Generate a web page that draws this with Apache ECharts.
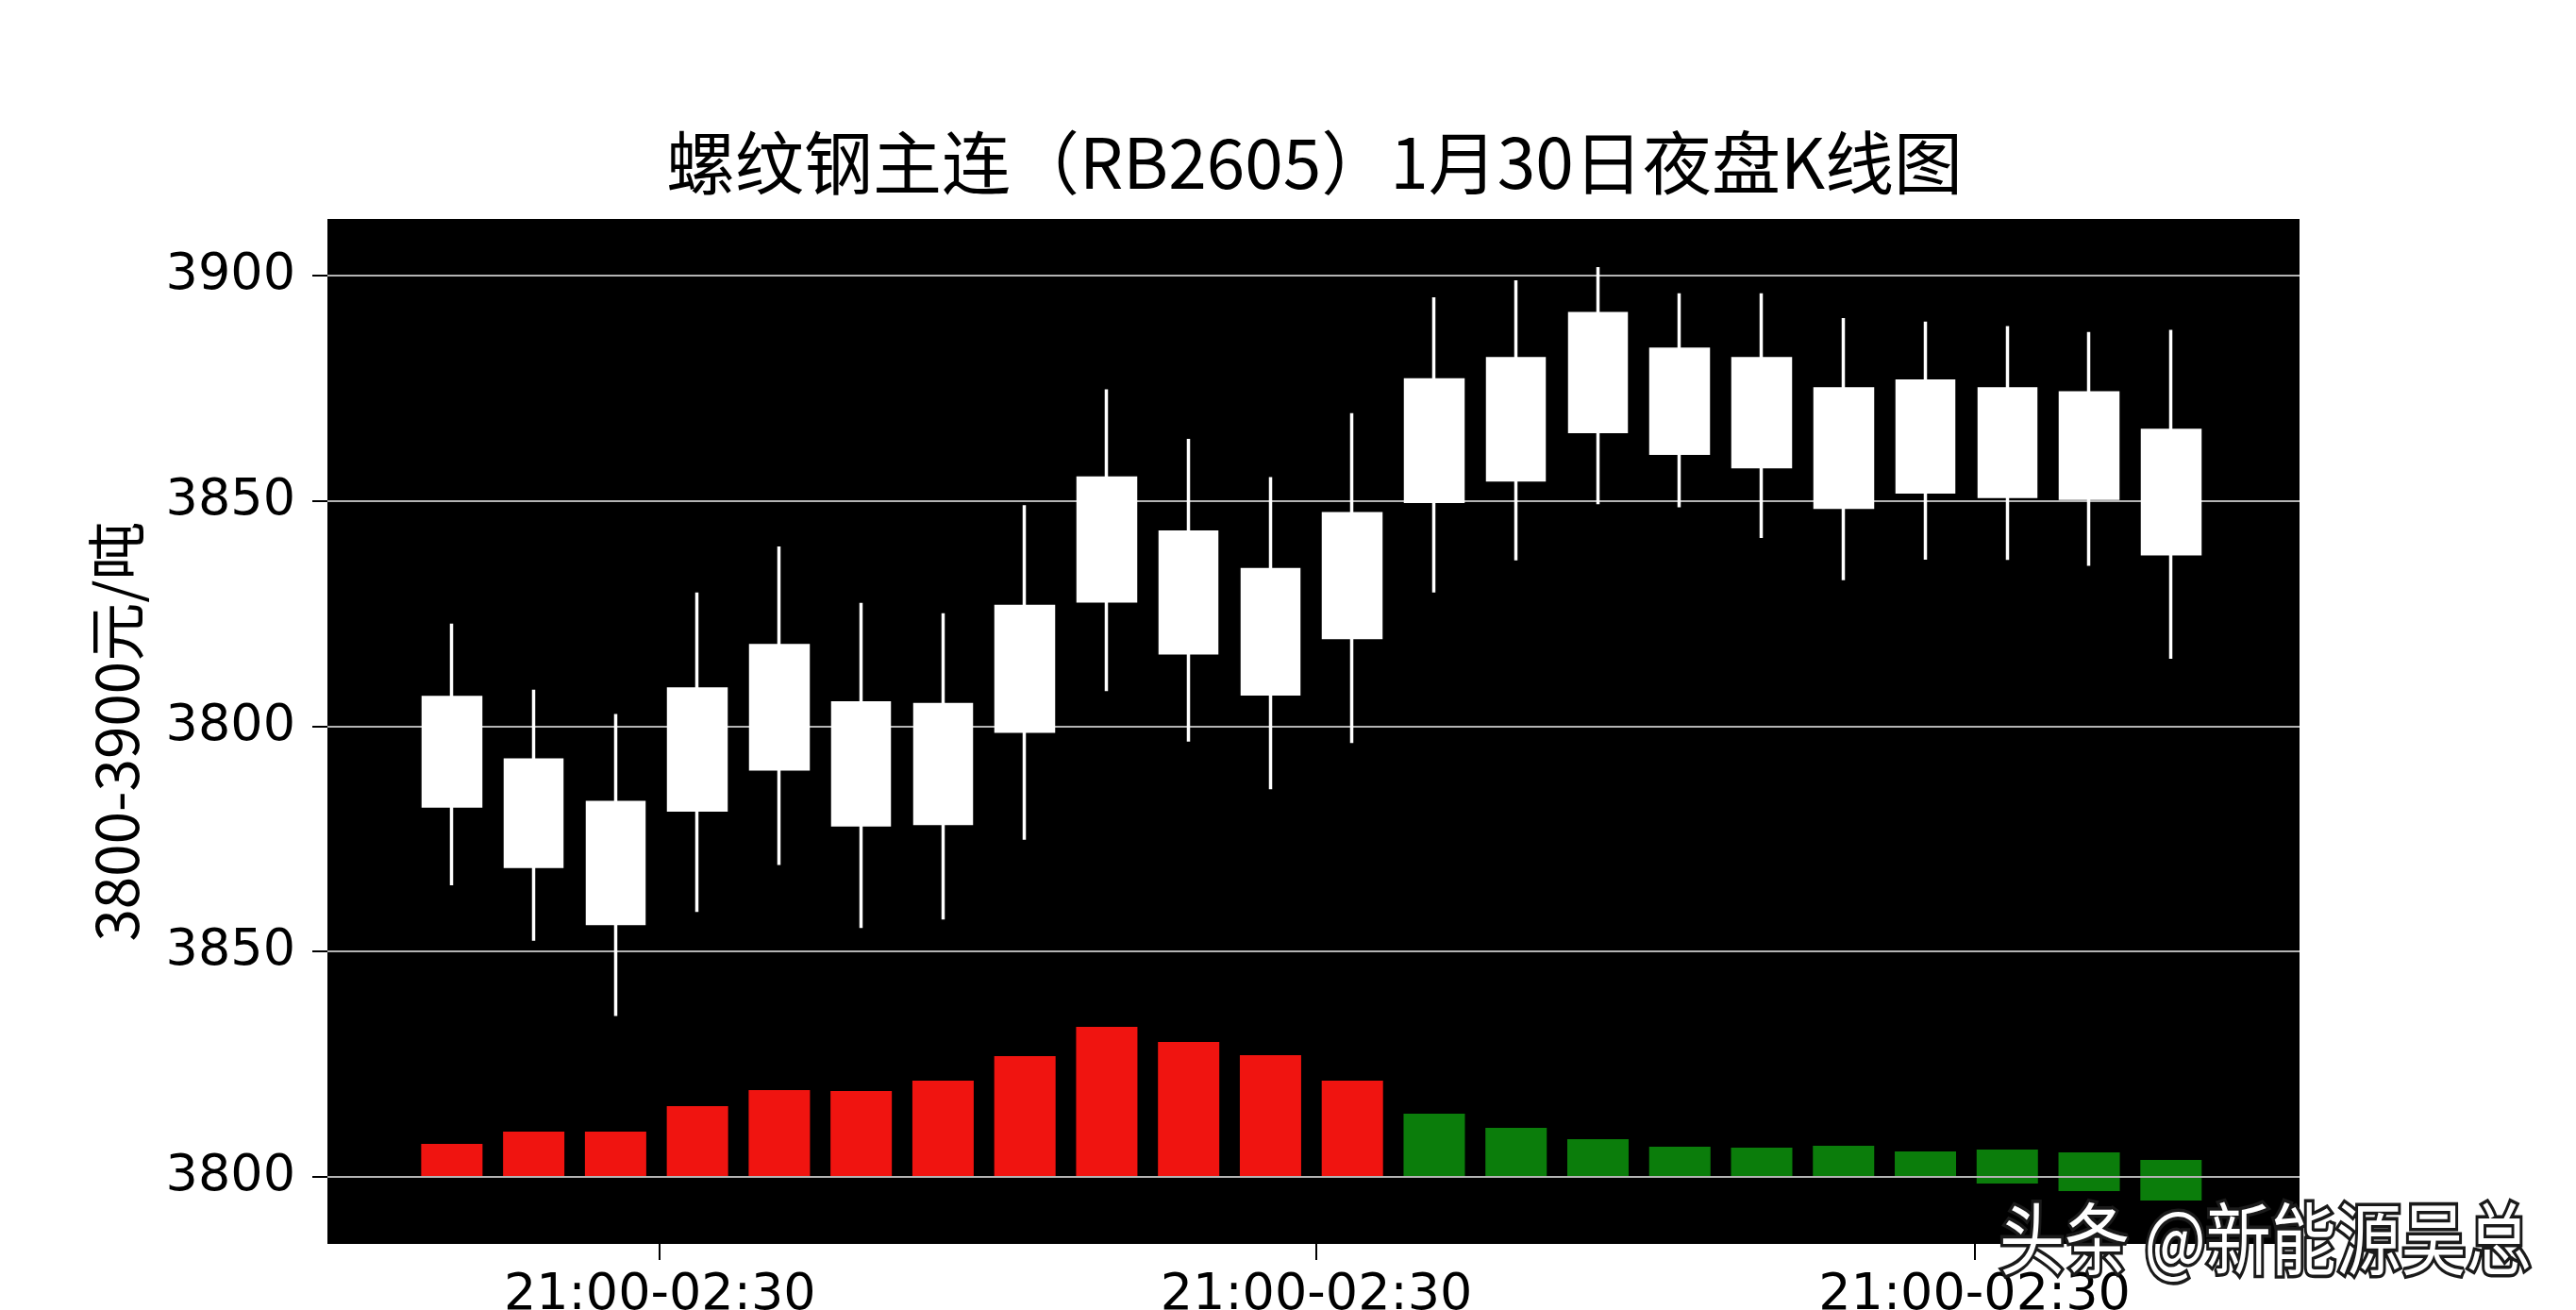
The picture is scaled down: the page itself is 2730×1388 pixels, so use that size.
<!DOCTYPE html>
<html>
<head>
<meta charset="utf-8">
<script src="https://cdn.jsdelivr.net/npm/echarts@6/dist/echarts.min.js"></script>
<style>
  html, body { margin: 0; padding: 0; background: #fff; }
  #chart { width: 2730px; height: 1388px; }
</style>
</head>
<body>
<div id="chart"></div>
<script>
// ---- data ----
const titleText = '螺纹钢主连（RB2605）1月30日夜盘K线图';
const yAxisName = '3800-3900元/吨';
const watermarkText = '头条 @新能源吴总';

// candle index (one per bar)
const candleIndex = [0,1,2,3,4,5,6,7,8,9,10,11,12,13,14,15,16,17,18,19,20,21];
const candleOpen  = [3782.3,3768.9,3756.2,3781.4,3790.5,3778.1,3778.4,3798.9,3827.8,3816.3,3807.2,3819.7,3876.9,3881.6,3891.6,3883.7,3881.6,3874.9,3876.6,3874.9,3874.0,3865.7];
const candleClose = [3806.4,3792.5,3783.1,3808.3,3817.9,3805.2,3804.8,3826.6,3855.1,3843.1,3834.8,3847.2,3849.9,3854.7,3865.4,3860.6,3857.6,3848.6,3852.0,3851.0,3850.6,3838.3];
const candleLow   = [3764.7,3752.4,3735.7,3758.8,3769.2,3755.2,3757.1,3774.8,3807.8,3796.6,3786.0,3796.3,3829.7,3836.8,3849.3,3848.6,3841.8,3832.4,3837.0,3836.9,3835.6,3815.0];
const candleHigh  = [3822.8,3808.1,3802.7,3829.7,3839.9,3827.4,3825.1,3849.1,3874.8,3863.8,3855.3,3869.5,3895.2,3899.0,3901.9,3896.1,3896.1,3890.6,3889.8,3888.8,3887.5,3888.0];

// volume bars: part above the baseline and part below it
const volumeAbove = [36,49,49,76,93,92,103,129,160,144,130,103,68,53,41,33,32,34,28,30,27,19];
const volumeBelow = [0,0,0,0,0,0,0,0,0,0,0,0,0,0,0,0,0,0,0,-6,-14,-24];

// axis ticks
const yTickValues = [3700, 3750, 3800, 3850, 3900];
const yTickLabels = ['3800', '3850', '3800', '3850', '3900'];
const xTickValues = [2.54, 10.56, 18.6];
const xTickLabels = ['21:00-02:30', '21:00-02:30', '21:00-02:30'];

// ---- chart ----
const isUp = i => candleClose[i] >= candleOpen[i];
const volColor = i => (isUp(i) ? '#f01410' : '#0b7d0b');
const candleData = candleIndex.map((x, i) => [x, candleOpen[i], candleClose[i], candleLow[i], candleHigh[i]]);
const aboveData = candleIndex.map((x, i) => ({ value: [x, volumeAbove[i]], itemStyle: { color: volColor(i) } }));
const belowData = candleIndex.map((x, i) => ({ value: [x, volumeBelow[i]], itemStyle: { color: volColor(i) } }));

const chart = echarts.init(document.getElementById('chart'), null, { renderer: 'canvas' });
chart.setOption({
  animation: false,
  backgroundColor: '#ffffff',
  title: {
    text: titleText,
    left: 1388,
    top: 131,
    textAlign: 'center',
    textStyle: { fontSize: 73, fontWeight: 'normal', color: '#000', fontFamily: '"Noto Sans CJK SC"' }
  },
  grid: {
    left: 347, top: 232, right: 293, bottom: 70,
    show: true, backgroundColor: '#000', borderWidth: 0,
    containLabel: false, outerBoundsMode: 'none'
  },
  xAxis: {
    type: 'value',
    min: -1.52, max: 22.57,
    axisLine: { show: false, onZero: false },
    axisTick: { show: true, customValues: xTickValues, length: 17, lineStyle: { color: '#000', width: 2 } },
    axisLabel: {
      customValues: xTickValues,
      formatter: v => { const k = xTickValues.indexOf(v); return k >= 0 ? xTickLabels[k] : ''; },
      fontSize: 54, fontFamily: '"DejaVu Sans"', color: '#000', margin: 28
    },
    splitLine: { show: false }
  },
  yAxis: [{
    type: 'value',
    min: 3685.1, max: 3912.6,
    z: 1.5,
    name: yAxisName,
    nameLocation: 'middle',
    nameRotate: 90,
    nameGap: 193,
    nameTextStyle: { fontSize: 62, fontFamily: '"Noto Sans CJK SC"', color: '#000' },
    axisLine: { show: false, onZero: false },
    axisTick: { show: true, customValues: yTickValues, length: 16, lineStyle: { color: '#000', width: 2 } },
    axisLabel: {
      customValues: yTickValues,
      formatter: v => { const k = yTickValues.indexOf(v); return k >= 0 ? yTickLabels[k] : ''; },
      fontSize: 54, fontFamily: '"DejaVu Sans"', color: '#000', margin: 34
    },
    splitLine: { show: true, lineStyle: { color: '#b4b4b4', width: 2 } }
  }, {
    type: 'value',
    min: -70, max: 1016,
    show: false,
    axisLine: { onZero: false },
    splitLine: { show: false }
  }],
  series: [{
    type: 'bar',
    name: 'volume',
    yAxisIndex: 1,
    stack: 'vol',
    barWidth: 65,
    z: 1,
    data: aboveData
  }, {
    type: 'bar',
    name: 'volume-below',
    yAxisIndex: 1,
    stack: 'vol',
    barWidth: 65,
    z: 1,
    data: belowData
  }, {
    type: 'candlestick',
    name: 'K',
    z: 3,
    barWidth: 61,
    dimensions: ['idx', 'open', 'close', 'lowest', 'highest'],
    encode: { x: 'idx', y: ['open', 'close', 'lowest', 'highest'] },
    itemStyle: { color: '#fff', color0: '#fff', borderColor: '#fff', borderColor0: '#fff', borderWidth: 3.5 },
    data: candleData
  }],
  graphic: [{
    type: 'text',
    x: 2119, y: 1313,
    scaleY: 1.2,
    z: 100,
    style: {
      text: watermarkText,
      font: '69px "Noto Sans CJK SC"',
      fill: '#fff',
      stroke: '#1a1a1a',
      lineWidth: 6,
      strokeFirst: true,
      align: 'left',
      verticalAlign: 'middle'
    }
  }]
});
</script>
</body>
</html>
